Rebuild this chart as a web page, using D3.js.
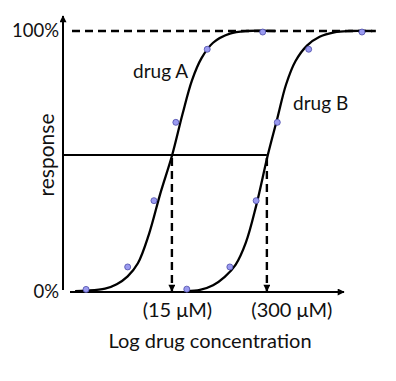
<!DOCTYPE html>
<html>
<head>
<meta charset="utf-8">
<script src="https://cdn.jsdelivr.net/npm/d3@7"></script>
<style>
  body { margin: 0; background: #fff; }
  text { font-family: Lato, "Open Sans", sans-serif; fill: #111; }
</style>
</head>
<body>
<div id="chart"></div>
<script>
// data: x = log10(concentration in uM), y = response (%)
var dotsA_x = [0.00, 0.57, 0.93, 1.23, 1.66, 2.42];
var dotsA_y = [1, 9.6, 35, 65, 93, 99.6];
var dotsB_x = [1.38, 1.97, 2.33, 2.62, 3.05, 3.78];
var dotsB_y = [1.1, 9.6, 35, 65, 93, 99.6];

var curveA_x = [-0.15, 0.00, 0.26, 0.42, 0.57, 0.71, 0.86, 1.02, 1.18, 1.32, 1.45, 1.58, 1.74, 1.97, 2.20, 2.60];
var curveA_y = [0.3, 0.5, 1.3, 3.0, 6.0, 11.0, 22.0, 38.0, 52.5, 68.0, 81.0, 89.5, 95.5, 99.0, 100, 100];
var curveB_x = [1.38, 1.56, 1.74, 1.90, 2.05, 2.19, 2.33, 2.49, 2.62, 2.74, 2.87, 3.03, 3.20, 3.40, 3.60, 3.92];
var curveB_y = [0.3, 0.8, 2.6, 5.8, 10.5, 19.0, 33.0, 52.5, 66.5, 79.5, 88.5, 94.5, 97.8, 99.5, 100, 100];

var ec50 = [15, 300];           // uM
var ec50Labels = ["(15 \u03bcM)", "(300 \u03bcM)"];
var halfResponse = 52.5;
var yTicks = [0, 100];
var drugNames = ["drug A", "drug B"];

var W = 396, H = 381;
var svg = d3.select("#chart").append("svg")
    .attr("width", W)
    .attr("height", H);

var x = d3.scaleLinear().domain([-0.22, 3.52]).range([70, 343]);
var y = d3.scaleLinear().domain([0, 100]).range([292, 31]);
var axisX = 63;

// arrow heads
var defs = svg.append("defs");
defs.append("marker")
    .attr("id", "arr")
    .attr("viewBox", "0 0 10 10")
    .attr("refX", 9).attr("refY", 5)
    .attr("markerUnits", "userSpaceOnUse")
    .attr("markerWidth", 8).attr("markerHeight", 7)
    .attr("orient", "auto")
  .append("path")
    .attr("d", "M0,0 L10,5 L0,10 Z")
    .attr("fill", "#000");

// 100% dashed line
svg.append("line")
    .attr("x1", axisX + 9).attr("x2", x(3.97))
    .attr("y1", y(100)).attr("y2", y(100))
    .attr("stroke", "#000").attr("stroke-width", 2.4)
    .attr("stroke-dasharray", "8,5");

// y axis line with arrow
svg.append("line")
    .attr("x1", axisX).attr("x2", axisX)
    .attr("y1", y(0) - 2).attr("y2", 16)
    .attr("stroke", "#000").attr("stroke-width", 2)
    .attr("marker-end", "url(#arr)");

// x axis line with arrow
svg.append("line")
    .attr("x1", x.range()[0]).attr("x2", x.range()[1] + 1)
    .attr("y1", y(0)).attr("y2", y(0))
    .attr("stroke", "#000").attr("stroke-width", 2)
    .attr("marker-end", "url(#arr)");

// y tick labels
var yAxis = svg.append("g")
    .attr("transform", "translate(" + axisX + ",0)")
    .call(d3.axisLeft(y).tickValues(yTicks).tickSize(0).tickPadding(4)
      .tickFormat(function(d) { return d + "%"; }));
yAxis.select(".domain").remove();
yAxis.selectAll("text")
    .style("font-family", "Lato, 'Open Sans', sans-serif")
    .style("font-size", "18.5px")
    .attr("fill", "#111");

// horizontal 50% line from y axis to drug B curve
svg.append("line")
    .attr("x1", axisX).attr("x2", x(Math.log10(ec50[1])))
    .attr("y1", y(halfResponse)).attr("y2", y(halfResponse))
    .attr("stroke", "#000").attr("stroke-width", 2.2);

// dashed drop arrows at EC50
svg.selectAll(".drop")
  .data(ec50)
  .enter().append("line")
    .attr("class", "drop")
    .attr("x1", function(d) { return x(Math.log10(d)); })
    .attr("x2", function(d) { return x(Math.log10(d)); })
    .attr("y1", y(halfResponse) + 3)
    .attr("y2", y(0) - 1)
    .attr("stroke", "#000").attr("stroke-width", 2.4)
    .attr("stroke-dasharray", "8,5")
    .attr("marker-end", "url(#arr)");

// curves
var line = d3.line()
    .x(function(d) { return x(d[0]); })
    .y(function(d) { return y(d[1]); })
    .curve(d3.curveCatmullRom.alpha(0.5));

[[curveA_x, curveA_y], [curveB_x, curveB_y]].forEach(function(c) {
  svg.append("path")
      .datum(d3.zip(c[0], c[1]))
      .attr("fill", "none")
      .attr("stroke", "#000")
      .attr("stroke-width", 2.3)
      .attr("d", line);
});

// data points
[[dotsA_x, dotsA_y], [dotsB_x, dotsB_y]].forEach(function(p) {
  svg.append("g").selectAll("circle")
    .data(d3.zip(p[0], p[1]))
    .enter().append("circle")
      .attr("cx", function(d) { return x(d[0]); })
      .attr("cy", function(d) { return y(d[1]); })
      .attr("r", 3)
      .attr("fill", "#9a9af0")
      .attr("stroke", "#4b4ba8")
      .attr("stroke-width", 0.8);
});

// drug labels
svg.append("text")
    .attr("x", 133).attr("y", 78)
    .style("font-size", "19px")
    .text(drugNames[0]);
svg.append("text")
    .attr("x", 293).attr("y", 110)
    .style("font-size", "19px")
    .text(drugNames[1]);

// EC50 labels under x axis
var labelShift = [5.5, 25];
svg.selectAll(".eclab")
  .data(ec50)
  .enter().append("text")
    .attr("class", "eclab")
    .attr("x", function(d, i) { return x(Math.log10(d)) + labelShift[i]; })
    .attr("y", 317)
    .attr("text-anchor", "middle")
    .style("font-size", "20px")
    .text(function(d, i) { return ec50Labels[i]; });

// axis titles
svg.append("text")
    .attr("x", 210).attr("y", 348)
    .attr("text-anchor", "middle")
    .style("font-size", "20px")
    .text("Log drug concentration");

svg.append("text")
    .attr("transform", "translate(54,155)rotate(-90)")
    .attr("text-anchor", "middle")
    .style("font-size", "21px")
    .text("response");
</script>
</body>
</html>
